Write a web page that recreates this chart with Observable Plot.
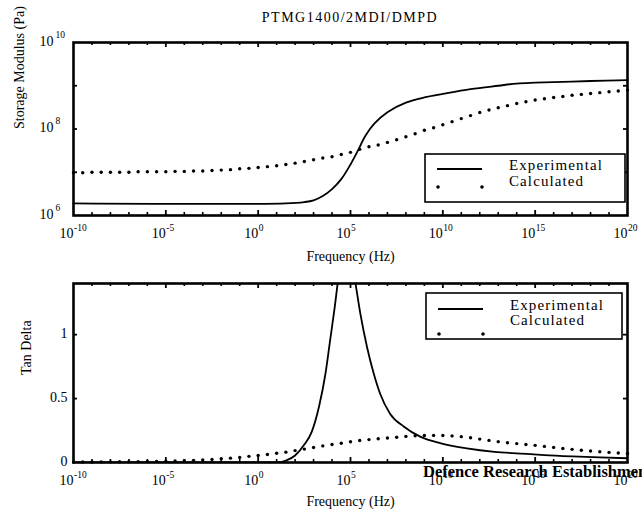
<!DOCTYPE html>
<html>
<head>
<meta charset="utf-8">
<script src="https://cdn.jsdelivr.net/npm/d3@7"></script>
<script src="https://cdn.jsdelivr.net/npm/@observablehq/plot@0.6"></script>
<style>
  html, body { margin: 0; padding: 0; background: #fff; }
  body { width: 642px; height: 514px; overflow: hidden; font-family: "Liberation Serif", "Times New Roman", serif; }
  #wrap { position: relative; width: 642px; height: 514px; }
  #title { position: absolute; top: 10px; left: 73px; width: 554px; text-align: center; font-size: 14px; letter-spacing: 1.5px; color: #000; line-height: 16px; }
  #top, #bottom { display: block; }
  svg { overflow: hidden; }
</style>
</head>
<body>
<div id="wrap">
  <div id="top"></div>
  <div id="bottom"></div>
  <div id="title">PTMG1400/2MDI/DMPD</div>
</div>
<script>
// ---------- data (frequencies and values given as log10 exponents) ----------
const titleText = "PTMG1400/2MDI/DMPD";
const xLabel = "Frequency (Hz)";
const yLabelTop = "Storage Modulus (Pa)";
const yLabelBottom = "Tan Delta";
const seriesNames = ["Experimental", "Calculated"];
const watermark = "Defence Research Establishment";

const xTickExps = [-10, -5, 0, 5, 10, 15, 20];
const yTickExpsTop = [6, 8, 10];
const yTicksBottom = [0, 0.5, 1];

// Storage modulus, experimental (solid line)
const expTopLogF = [-10, 1.5, 2.5, 3.0, 3.5, 4.0, 4.5, 5.0, 5.4, 5.8, 6.3, 7.0, 8.0, 9.0, 10.0, 11.5, 13.0, 14.0, 15.0, 16.5, 18.0, 20.0];
const expTopLogE = [6.28, 6.28, 6.31, 6.35, 6.45, 6.61, 6.84, 7.18, 7.50, 7.84, 8.13, 8.39, 8.61, 8.73, 8.81, 8.92, 9.00, 9.05, 9.07, 9.09, 9.11, 9.13];

// Calculated (dots) – sampled every half decade
const calcLogF = [-10, -9.5, -9, -8.5, -8, -7.5, -7, -6.5, -6, -5.5, -5, -4.5, -4, -3.5, -3, -2.5, -2, -1.5, -1, -0.5,
  0, 0.5, 1, 1.5, 2, 2.5, 3, 3.5, 4, 4.5, 5, 5.5, 6, 6.5, 7, 7.5, 8, 8.5, 9, 9.5,
  10, 10.5, 11, 11.5, 12, 12.5, 13, 13.5, 14, 14.5, 15, 15.5, 16, 16.5, 17, 17.5, 18, 18.5, 19, 19.5, 20];
const calcTopLogE = [6.99, 6.99, 7.00, 7.00, 7.00, 7.00, 7.00, 7.01, 7.01, 7.01, 7.01, 7.02, 7.02, 7.03, 7.03, 7.04, 7.05, 7.06, 7.08, 7.09,
  7.11, 7.13, 7.15, 7.18, 7.21, 7.25, 7.29, 7.33, 7.36, 7.41, 7.46, 7.53, 7.59, 7.63, 7.69, 7.75, 7.82, 7.89, 7.97, 8.03,
  8.10, 8.17, 8.24, 8.31, 8.38, 8.44, 8.49, 8.54, 8.59, 8.63, 8.67, 8.70, 8.73, 8.75, 8.78, 8.80, 8.82, 8.84, 8.86, 8.88, 8.90];

// Tan delta, experimental (solid line; peak runs off the top of the axes)
const expBotLogF = [-10, 1.0, 1.5, 2.0, 2.5, 2.9, 3.3, 3.65, 3.9, 4.15, 4.35, 4.6, 4.8, 5.0, 5.25, 5.55, 5.9, 6.25, 6.6, 7.15, 7.9, 8.8, 9.9, 11.3, 12.8, 14.2, 15.5, 17.0, 18.5, 20.0];
const expBotTan = [0, 0, 0.015, 0.055, 0.14, 0.24, 0.44, 0.70, 0.96, 1.22, 1.45, 1.65, 1.72, 1.65, 1.42, 1.15, 0.90, 0.70, 0.54, 0.38, 0.28, 0.20, 0.15, 0.11, 0.083, 0.07, 0.058, 0.048, 0.04, 0.033];

// Tan delta, calculated (dots)
const calcBotTan = [0.004, 0.004, 0.004, 0.005, 0.005, 0.006, 0.006, 0.007, 0.008, 0.009, 0.010, 0.012, 0.014, 0.017, 0.020, 0.024, 0.029, 0.034, 0.040, 0.048,
  0.055, 0.063, 0.072, 0.081, 0.093, 0.105, 0.117, 0.130, 0.141, 0.151, 0.162, 0.172, 0.179, 0.186, 0.192, 0.198, 0.204, 0.209, 0.211, 0.212,
  0.211, 0.208, 0.202, 0.193, 0.183, 0.173, 0.163, 0.155, 0.148, 0.141, 0.134, 0.126, 0.118, 0.110, 0.103, 0.096, 0.090, 0.084, 0.079, 0.074, 0.070];

// ---------- build tables ----------
const expTop = expTopLogF.map((f, i) => ({f: 10 ** f, v: 10 ** expTopLogE[i]}));
const calcTop = calcLogF.map((f, i) => ({f: 10 ** f, v: 10 ** calcTopLogE[i]}));
const expBot = expBotLogF.map((f, i) => ({f: 10 ** f, v: expBotTan[i]}));
const calcBot = calcLogF.map((f, i) => ({f: 10 ** f, v: calcBotTan[i]}));

const FONT = "Liberation Serif";
const W = 642, ML = 73, MR = 15;
const innerW = W - ML - MR;

const decades = d3.range(-9, 20);
const minorDec = decades.filter(d => d % 5 !== 0).map(d => 10 ** d);
const majorDec = decades.filter(d => d % 5 === 0).map(d => 10 ** d);

function xTickMarks(innerH) {
  return [
    Plot.ruleX(minorDec, {insetTop: innerH - 3, stroke: "black", strokeWidth: 1.6}),
    Plot.ruleX(majorDec, {insetTop: innerH - 5, stroke: "black", strokeWidth: 1.8}),
    Plot.ruleX(minorDec, {insetBottom: innerH - 3, stroke: "black", strokeWidth: 1.6}),
    Plot.ruleX(majorDec, {insetBottom: innerH - 5, stroke: "black", strokeWidth: 1.8})
  ];
}
function yTickMarks(vals) {
  return [
    Plot.ruleY(vals, {insetRight: innerW - 4, stroke: "black", strokeWidth: 1.8}),
    Plot.ruleY(vals, {insetLeft: innerW - 4, stroke: "black", strokeWidth: 1.8})
  ];
}
function xTickLabels() {
  return [
    Plot.text(xTickExps, {x: d => 10 ** d, frameAnchor: "bottom", text: () => "10", textAnchor: "end", lineAnchor: "bottom", dy: 22, fontSize: 14, fontFamily: FONT}),
    Plot.text(xTickExps, {x: d => 10 ** d, frameAnchor: "bottom", text: d => String(d), textAnchor: "start", lineAnchor: "bottom", dx: 0.5, dy: 15, fontSize: 9.5, fontFamily: FONT})
  ];
}

// ---------- top panel ----------
const H1 = 270, MT1 = 42, MB1 = 55;
const inner1 = H1 - MT1 - MB1;
const topPlot = Plot.plot({
  width: W, height: H1, marginTop: MT1, marginBottom: MB1, marginLeft: ML, marginRight: MR,
  style: {fontFamily: FONT, background: "white", color: "black"},
  x: {type: "log", domain: [1e-10, 1e20], axis: null},
  y: {type: "log", domain: [1e6, 1e10], axis: null},
  marks: [
    Plot.line(expTop, {x: "f", y: "v", curve: "catmull-rom", stroke: "black", strokeWidth: 1.8}),
    Plot.dot(calcTop, {x: "f", y: "v", r: 1.7, fill: "black", stroke: "none"}),
    ...xTickMarks(inner1),
    ...yTickMarks([1e7, 1e8, 1e9]),
    ...xTickLabels(),
    ...yTickExpsTop.map(e => Plot.text([e], {y: d => 10 ** d, frameAnchor: "left", text: () => "10", textAnchor: "end", lineAnchor: "bottom", dx: -20, dy: 3, fontSize: 14, fontFamily: FONT})),
    ...yTickExpsTop.map(e => Plot.text([e], {y: d => 10 ** d, frameAnchor: "left", text: d => String(d), textAnchor: "start", lineAnchor: "bottom", dx: -18, dy: -5, fontSize: 9.5, fontFamily: FONT})),
    Plot.text([xLabel], {frameAnchor: "bottom", lineAnchor: "bottom", dy: 45, fontSize: 14, fontFamily: FONT, letterSpacing: 0.6}),
    Plot.text([yLabelTop], {frameAnchor: "left", rotate: -90, dx: -54, fontSize: 14, fontFamily: FONT, letterSpacing: 0.8}),
    Plot.frame({stroke: "black", strokeWidth: 2.6})
  ]
});
document.getElementById("top").appendChild(topPlot);

// ---------- bottom panel ----------
const H2 = 244, MT2 = 13, MB2 = 52;
const inner2 = H2 - MT2 - MB2;
const botPlot = Plot.plot({
  width: W, height: H2, marginTop: MT2, marginBottom: MB2, marginLeft: ML, marginRight: MR,
  style: {fontFamily: FONT, background: "white", color: "black"},
  x: {type: "log", domain: [1e-10, 1e20], axis: null},
  y: {type: "linear", domain: [0, 1.4], axis: null},
  marks: [
    Plot.line(expBot, {x: "f", y: "v", curve: "monotone-x", stroke: "black", strokeWidth: 1.8, clip: true}),
    Plot.dot(calcBot, {x: "f", y: "v", r: 1.7, fill: "black", stroke: "none"}),
    ...xTickMarks(inner2),
    ...yTickMarks([0.5, 1]),
    ...xTickLabels(),
    Plot.text(yTicksBottom, {y: d => d, frameAnchor: "left", text: d => String(d), textAnchor: "end", dx: -6, dy: -1, fontSize: 14, fontFamily: FONT}),
    Plot.text([xLabel], {frameAnchor: "bottom", lineAnchor: "bottom", dy: 43, fontSize: 14, fontFamily: FONT, letterSpacing: 0.6}),
    Plot.text([yLabelBottom], {frameAnchor: "left", rotate: -90, dx: -47, dy: 2, fontSize: 14, fontFamily: FONT, letterSpacing: 1.2}),
    Plot.frame({stroke: "black", strokeWidth: 2.6})
  ]
});
document.getElementById("bottom").appendChild(botPlot);

// ---------- legends (pixel-positioned annotation boxes) ----------
function legend(svg, box, rows) {
  const g = d3.select(svg).append("g").attr("font-family", FONT).attr("font-size", 15).attr("fill", "black").attr("text-anchor", "start");
  g.append("rect").attr("x", box.x).attr("y", box.y).attr("width", box.w).attr("height", box.h)
    .attr("fill", "white").attr("stroke", "black").attr("stroke-width", 1.6);
  g.append("line").attr("x1", box.x + 12).attr("x2", box.x + 57).attr("y1", rows.lineY).attr("y2", rows.lineY)
    .attr("stroke", "black").attr("stroke-width", 1.8);
  [box.x + 13, box.x + 57].forEach(cx => g.append("circle").attr("cx", cx).attr("cy", rows.dotY).attr("r", 1.8).attr("fill", "black"));
  g.append("text").attr("x", box.x + 84).attr("y", rows.t1).attr("text-anchor", "start").attr("letter-spacing", 1.1).text(seriesNames[0]);
  g.append("text").attr("x", box.x + 84).attr("y", rows.t2).attr("text-anchor", "start").attr("letter-spacing", 1.1).text(seriesNames[1]);
}
legend(topPlot, {x: 425, y: 154, w: 200, h: 48}, {lineY: 169, dotY: 187, t1: 170, t2: 186});
legend(botPlot, {x: 426, y: 293 - H1, w: 196, h: 46}, {lineY: 309 - H1, dotY: 334 - H1, t1: 310 - H1, t2: 325 - H1});

// watermark text overlapping the lower right corner
d3.select(botPlot).append("text").attr("x", 423).attr("y", 477 - H1).attr("text-anchor", "start")
  .attr("font-family", FONT).attr("font-weight", "bold").attr("font-size", 16.5).attr("fill", "black")
  .text(watermark);
</script>
</body>
</html>
